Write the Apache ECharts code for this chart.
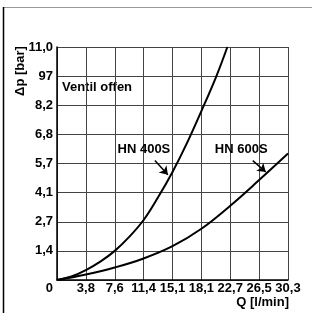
<!DOCTYPE html>
<html>
<head>
<meta charset="utf-8">
<script src="https://cdn.jsdelivr.net/npm/echarts@6/dist/echarts.min.js"></script>
<style>
    html, body { margin: 0; padding: 0; background: #fff; }
    #chart { width: 312px; height: 313px; }
</style>
</head>
<body>
<div id="chart"></div>
<script>
// tick labels (evenly spaced grid steps)
const xTicks = ['0', '3,8', '7,6', '11,4', '15,1', '18,1', '22,7', '26,5', '30,3'];
const yTicks = ['0', '1,4', '2,7', '4,1', '5,7', '6,8', '8,2', '97', '11,0'];

// curves, in grid steps [x, y]
const hn400s = [[0, 0], [0.5, 0.12], [1, 0.34], [1.5, 0.63], [2, 1.0], [2.5, 1.48], [3, 2.06], [3.5, 2.84], [4, 3.71], [4.5, 4.7], [5, 5.8], [5.5, 6.95], [5.9, 8]];
const hn600s = [[0, 0], [1, 0.19], [2, 0.43], [3, 0.74], [4, 1.16], [5, 1.76], [6, 2.55], [7, 3.43], [8, 4.34]];

const font = 'Liberation Sans, Arial, sans-serif';

const chart = echarts.init(document.getElementById('chart'), null, { renderer: 'canvas' });

const lineSeries = (name, data, labelAt, arrowFrom, arrowTo) => ({
    name,
    type: 'line',
    data,
    smooth: 0.4,
    showSymbol: false,
    lineStyle: { color: '#000', width: 2 },
    markPoint: {
        symbol: 'circle',
        symbolSize: 0,
        label: {
            show: true,
            position: 'inside',
            formatter: name,
            color: '#000',
            fontFamily: font,
            fontWeight: 'bold',
            fontSize: 13
        },
        data: [{ coord: labelAt }]
    },
    markLine: {
        silent: true,
        symbol: ['none', 'arrow'],
        symbolSize: 8,
        label: { show: false },
        lineStyle: { color: '#000', width: 1.5, type: 'solid' },
        data: [[{ coord: arrowFrom }, { coord: arrowTo }]]
    }
});

const option = {
    animation: false,
    backgroundColor: '#fff',
    grid: { left: 57, right: 24, top: 47, bottom: 33 },
    xAxis: {
        type: 'value',
        min: 0,
        max: 8,
        interval: 1,
        axisLine: { show: true, lineStyle: { color: '#000', width: 1.5 } },
        axisTick: { show: false },
        splitLine: { show: true, lineStyle: { color: '#444', width: 1 } },
        axisLabel: {
            margin: 2,
            color: '#000',
            fontFamily: font,
            fontWeight: 'bold',
            fontSize: 13,
            formatter: v => (v === 0 ? '' : xTicks[v])
        }
    },
    yAxis: {
        type: 'value',
        min: 0,
        max: 8,
        interval: 1,
        axisLine: { show: true, lineStyle: { color: '#000', width: 1.5 } },
        axisTick: { show: false },
        splitLine: { show: true, lineStyle: { color: '#444', width: 1 } },
        axisLabel: {
            margin: 4,
            color: '#000',
            fontFamily: font,
            fontWeight: 'bold',
            fontSize: 13,
            formatter: v => (v === 0 ? '{z|0}' : yTicks[v]),
            rich: {
                z: {
                    color: '#000',
                    fontFamily: font,
                    fontWeight: 'bold',
                    fontSize: 13,
                    padding: [16, 0, 0, 0]
                }
            }
        }
    },
    graphic: [
        {
            type: 'line',
            shape: { x1: 3, y1: 7.5, x2: 312, y2: 7.5 },
            style: { stroke: '#999', lineWidth: 1 }
        },
        {
            type: 'line',
            shape: { x1: 3.5, y1: 7, x2: 3.5, y2: 313 },
            style: { stroke: '#000', lineWidth: 1.5 }
        },
        {
            type: 'text',
            x: 20,
            y: 71,
            rotation: Math.PI / 2,
            style: {
                text: 'Δp [bar]',
                fill: '#000',
                font: 'bold 13px ' + font,
                textAlign: 'center',
                textVerticalAlign: 'middle'
            }
        },
        {
            type: 'text',
            x: 62,
            y: 87,
            style: {
                text: 'Ventil offen',
                fill: '#000',
                font: 'bold 13px ' + font,
                textAlign: 'left',
                textVerticalAlign: 'middle'
            }
        },
        {
            type: 'text',
            x: 289,
            y: 302,
            style: {
                text: 'Q [l/min]',
                fill: '#000',
                font: 'bold 13px ' + font,
                textAlign: 'right',
                textVerticalAlign: 'middle'
            }
        }
    ],
    series: [
        lineSeries('HN 400S', hn400s, [3.01, 4.47], [3.39, 4.1], [3.84, 3.61]),
        lineSeries('HN 600S', hn600s, [6.38, 4.47], [6.78, 4.1], [7.23, 3.71])
    ]
};

chart.setOption(option);
</script>
</body>
</html>
